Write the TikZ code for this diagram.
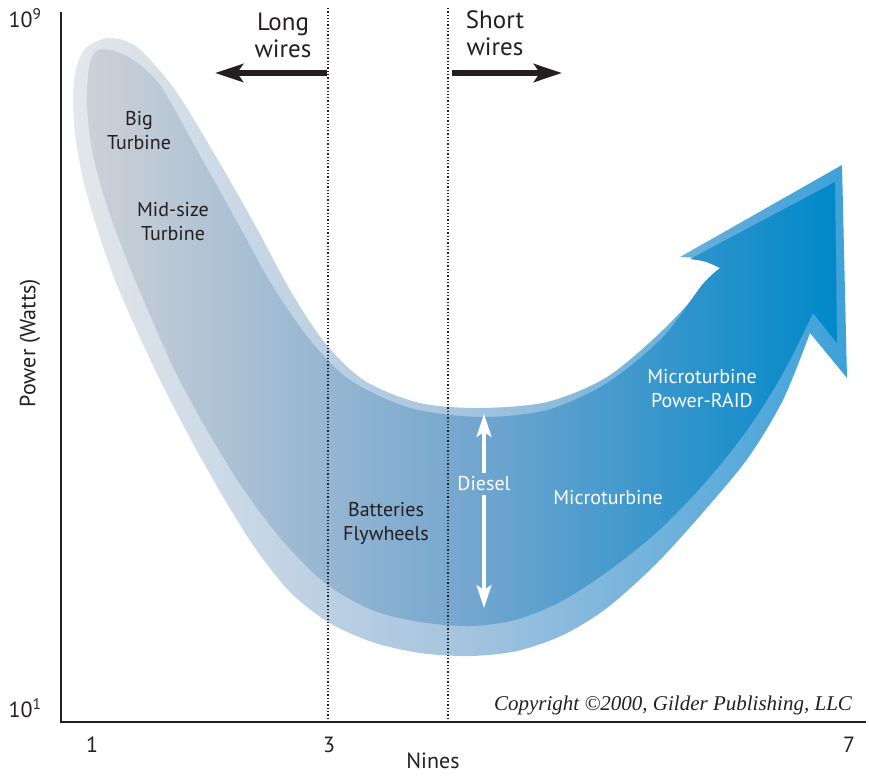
\documentclass[tikz,border=0pt]{standalone}
\usepackage{fontspec}
\setmainfont{PT Sans}
\newfontfamily\copyfont{Liberation Serif}
\usetikzlibrary{arrows.meta}

\definecolor{outerL}{HTML}{E4E7EB}
\definecolor{outerM}{HTML}{A6C4DF}
\definecolor{outerR}{HTML}{3DA1D9}
\definecolor{innerL}{HTML}{CDD1D7}
\definecolor{innerM}{HTML}{76A7CF}
\definecolor{innerR}{HTML}{0088C9}
\definecolor{ink}{HTML}{231F20}

\begin{document}
\begin{tikzpicture}[x=1pt,y=-1pt,
    lbl/.style={align=center,text=ink,font=\fontsize{20}{24}\selectfont},
    wlbl/.style={lbl,text=white},
    big/.style={align=center,text=ink,font=\fontsize{25}{27}\selectfont},
    ticklbl/.style={text=ink,font=\fontsize{22}{24}\selectfont},
    wirearrow/.style={line width=6.5pt,ink,-{Stealth[length=28pt,width=18pt,inset=6pt]}},
    dieselarrow/.style={line width=3.5pt,white,-{Stealth[length=23pt,width=15pt,inset=5pt]}},
    nineline/.style={line width=1.3pt,ink,dotted}]
  \useasboundingbox (0,0) rectangle (869,776);

  % the big U-shaped arrow, light rim first
  \path[left color=outerL,right color=outerR,middle color=outerM]
    plot[smooth] coordinates {(728,265) (713,277) (663,330) (607,377)
      (547,402) (480,408) (420,403) (365,381) (325,343) (290,290) (255,225)
      (215,155) (175,90) (137,47) (108,38) (84,50) (74,80) (74,125)
      (82,175) (96,225) (113,275) (132,320) (160,380) (190,438) (222,495)
      (255,548) (290,592) (328,622) (372,642) (420,653) (470,656) (517,651)
      (563,635) (607,608) (657,563) (705,510) (748,458) (783,400) (810,333)}
    -- (847,378) -- (842,165) -- (680,257) .. controls (705,258) .. (728,265)
    -- cycle;
  % darker body
  \path[left color=innerL,right color=innerR,middle color=innerM]
    plot[smooth] coordinates {(720,268) (702,285) (663,337) (607,383)
      (547,410) (480,417) (410,408) (350,380) (310,340) (272,285) (236,220)
      (198,152) (160,85) (130,58) (102,49) (90,62) (87,103)
      (92,150) (106,203) (126,258) (150,315) (176,373) (207,430) (242,487)
      (282,540) (325,583) (372,610) (420,622) (470,626) (515,620) (560,602)
      (607,572) (657,532) (703,485) (745,433) (782,375) (813,313)}
    -- (837,343) -- (835,182) -- (690,259) .. controls (705,261) .. (720,268)
    -- cycle;

  % axes
  \coordinate (org) at (61,722);
  \coordinate (ytop) at (61,12);
  \coordinate (xend) at (866,722);
  \draw[line width=2.2pt,ink] (ytop) -- (org) -- (xend);

  % the two dotted bounds
  \coordinate (n3top) at (328,8);
  \coordinate (n3bot) at (328,722);
  \coordinate (n5top) at (448,8);
  \coordinate (n5bot) at (448,722);
  \draw[nineline] (n3top) -- (n3bot);
  \draw[nineline] (n5top) -- (n5bot);

  % wires
  \node[big] (long) at (283,35) {Long\\wires};
  \node[big] (short) at (495,33) {Short\\wires};
  \coordinate (lstart) at (327,73);
  \coordinate (lend) at (215,73);
  \coordinate (sstart) at (452,73);
  \coordinate (send) at (562,73);
  \draw[wirearrow] (lstart) -- (lend);
  \draw[wirearrow] (sstart) -- (send);

  % labels on the arrow
  \node[lbl] (bigturb) at (139,131) {Big\\Turbine};
  \node[lbl] (midturb) at (173,222) {Mid-size\\Turbine};
  \node[lbl] (batt) at (386,523) {Batteries\\Flywheels};
  \node[wlbl] (diesel) at (484,484) {Diesel};
  \node[wlbl] (micro) at (608,498) {Microturbine};
  \node[wlbl] (raid) at (702,389) {Microturbine\\Power-RAID};

  \coordinate (dtop) at (484,414);
  \coordinate (dbot) at (484,608);
  \draw[dieselarrow] (diesel.north) -- (dtop);
  \draw[dieselarrow] (diesel.south) -- (dbot);

  % axis texts
  \node[ticklbl] (ymax) at (25,18) {10\textsuperscript{9}};
  \node[ticklbl] (ymin) at (25,708) {10\textsuperscript{1}};
  \node[ticklbl] (x1) at (92,745) {1};
  \node[ticklbl] (x3) at (329,745) {3};
  \node[ticklbl] (x7) at (849,745) {7};
  \node[ticklbl] (xlab) at (433,761) {Nines};
  \node[ticklbl,rotate=90] (ylab) at (30,343) {Power (Watts)};

  \node[text=ink,font=\copyfont\itshape\fontsize{21}{23}\selectfont] (copy) at (673,705)
    {Copyright ©2000, Gilder Publishing, LLC};
\end{tikzpicture}
\end{document}
